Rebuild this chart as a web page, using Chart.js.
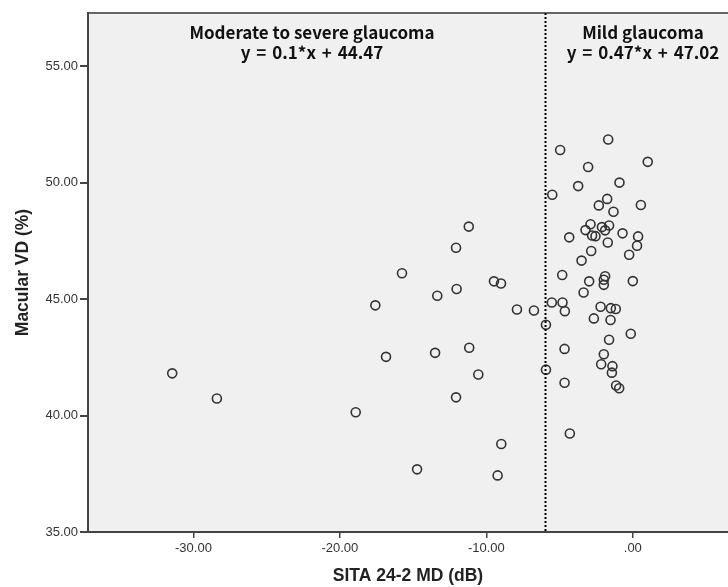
<!DOCTYPE html>
<html>
<head>
<meta charset="utf-8">
<script src="https://cdn.jsdelivr.net/npm/chart.js@4/dist/chart.umd.min.js"></script>
<style>
html, body { margin: 0; padding: 0; background: #fff; overflow: hidden; }
</style>
</head>
<body>
<canvas id="mdChart" width="728" height="587"></canvas>
<script>
// SITA 24-2 MD (dB) per eye
var md = [
  -31.45, -28.4, -18.92, -17.58, -16.85, -15.76, -14.73, -13.5, -13.35, -12.07,
  -12.03, -12.07, -11.2, -11.17, -10.55, -9.48, -9.0, -8.98, -9.23, -7.91, -6.75,
  -5.93, -5.93, -5.53, -5.5, -4.96, -4.82, -4.8, -4.64, -4.66, -4.66,
  -4.34, -4.3, -3.73, -3.5, -3.36, -3.23, -3.05, -2.98, -2.89, -2.84,
  -2.78, -2.55, -2.66, -2.32, -2.2, -2.16, -2.11, -1.98, -1.98, -1.98,
  -1.89, -1.89, -1.75, -1.71, -1.68, -1.62, -1.62, -1.52, -1.5, -1.43,
  -1.39, -1.32, -1.16, -1.14, -0.93, -0.91, -0.7, -0.25, -0.14, 0.0,
  0.29, 0.36, 0.55, 1.02
];
// Macular VD (%) per eye
var vd = [
  41.81, 40.73, 40.14, 44.73, 42.52, 46.11, 37.69, 42.69, 45.14, 47.20,
  45.43, 40.78, 48.11, 42.91, 41.76, 45.76, 45.67, 38.78, 37.43, 44.55, 44.51,
  43.9, 41.97, 44.85, 49.48, 51.4, 46.03, 44.85, 44.48, 42.86, 41.41,
  47.65, 39.23, 49.85, 46.65, 45.28, 47.96, 50.67, 45.76, 48.21, 47.06,
  47.73, 47.7, 44.17, 49.02, 44.67, 42.2, 48.09, 45.83, 45.61, 42.63,
  45.98, 47.95, 49.3, 47.43, 51.85, 48.16, 43.25, 44.1, 44.61, 41.84,
  42.12, 48.75, 44.57, 41.29, 41.17, 50.0, 47.82, 46.9, 43.51, 45.77,
  47.29, 47.69, 49.04, 50.89
];

var xTicks = [-30, -20, -10, 0];
var yTicks = [35, 40, 45, 50, 55];
var cutoff = -6;
var groupNames = ['Moderate to severe glaucoma', 'Mild glaucoma'];
var equations = ['y = 0.1*x + 44.47', 'y = 0.47*x + 47.02'];

var points = md.map(function(x, i){ return {x: x, y: vd[i]}; });

function fmt(v){
  var s = Number(v).toFixed(2);
  if (s === '0.00') return '.00';
  return s;
}

var decor = {
  id: 'decor',
  beforeDraw: function(chart){
    var c = chart.ctx, a = chart.chartArea;
    c.save();
    c.fillStyle = '#f0f0f0';
    c.fillRect(a.left, a.top, a.right - a.left, a.bottom - a.top);
    c.strokeStyle = '#666';
    c.lineWidth = 2;
    c.beginPath();
    c.moveTo(a.left, a.top);
    c.lineTo(a.right, a.top);
    c.stroke();
    c.restore();
  },
  afterDatasetsDraw: function(chart){
    var c = chart.ctx, a = chart.chartArea, xs = chart.scales.x;
    var px = Math.round(xs.getPixelForValue(cutoff)) + 0.5;
    c.save();
    c.strokeStyle = '#000';
    c.lineWidth = 2;
    c.setLineDash([2, 2]);
    c.beginPath();
    c.moveTo(px, a.top);
    c.lineTo(px, a.bottom);
    c.stroke();
    c.setLineDash([]);

    // group labels with their fitted lines
    c.fillStyle = '#111';
    c.font = 'bold 17px "Noto Sans CJK KR", "Open Sans", sans-serif';
    c.textAlign = 'center';
    c.textBaseline = 'middle';
    var lx = 312, rx = 643;
    c.fillText(groupNames[0], lx, a.top + 20);
    c.fillText(groupNames[1], rx, a.top + 20);
    c.wordSpacing = '2px';
    c.fillText(equations[0], lx, a.top + 40);
    c.fillText(equations[1], rx, a.top + 40);
    c.restore();
  }
};

var ctx = document.getElementById('mdChart').getContext('2d');

var chart = new Chart(ctx, {
  type: 'scatter',
  data: {
    datasets: [{
      data: points,
      pointStyle: 'circle',
      pointRadius: 4.5,
      pointHoverRadius: 4.5,
      backgroundColor: 'rgba(0,0,0,0)',
      borderColor: '#333',
      borderWidth: 1.6
    }]
  },
  options: {
    responsive: false,
    animation: false,
    devicePixelRatio: 1,
    layout: { autoPadding: false, padding: { top: 13, left: 0, right: 0, bottom: 0 } },
    plugins: { legend: { display: false }, tooltip: { enabled: false } },
    scales: {
      x: {
        type: 'linear',
        min: -37.2,
        max: 6.5,
        afterBuildTicks: function(s){ s.ticks = xTicks.map(function(v){ return {value: v}; }); },
        afterFit: function(s){ s.height = 55; },
        grid: { drawOnChartArea: false, drawTicks: true, tickLength: 6, color: '#444', lineWidth: 1.5 },
        border: { display: true, color: '#444', width: 2 },
        ticks: {
          callback: fmt, color: '#333', padding: 3, maxRotation: 0,
          font: { family: '"Liberation Sans", Arial, sans-serif', size: 13 }
        },
        title: {
          display: true, text: 'SITA 24-2 MD (dB)', color: '#222',
          padding: { top: 4, bottom: 0 },
          font: { family: '"Liberation Sans", Arial, sans-serif', size: 17.5, weight: 'bold' }
        }
      },
      y: {
        type: 'linear',
        min: 35,
        max: 57.28,
        afterBuildTicks: function(s){ s.ticks = yTicks.map(function(v){ return {value: v}; }); },
        afterFit: function(s){ s.width = 88; },
        grid: { drawOnChartArea: false, drawTicks: true, tickLength: 8, color: '#444', lineWidth: 2 },
        border: { display: true, color: '#444', width: 2 },
        ticks: {
          callback: fmt, color: '#333', padding: 2,
          font: { family: '"Liberation Sans", Arial, sans-serif', size: 13 }
        },
        title: {
          display: true, text: 'Macular VD (%)', color: '#222',
          padding: { top: 13, bottom: 0 },
          font: { family: '"Liberation Sans", Arial, sans-serif', size: 17.5, weight: 'bold' }
        }
      }
    }
  },
  plugins: [decor]
});
</script>
</body>
</html>
